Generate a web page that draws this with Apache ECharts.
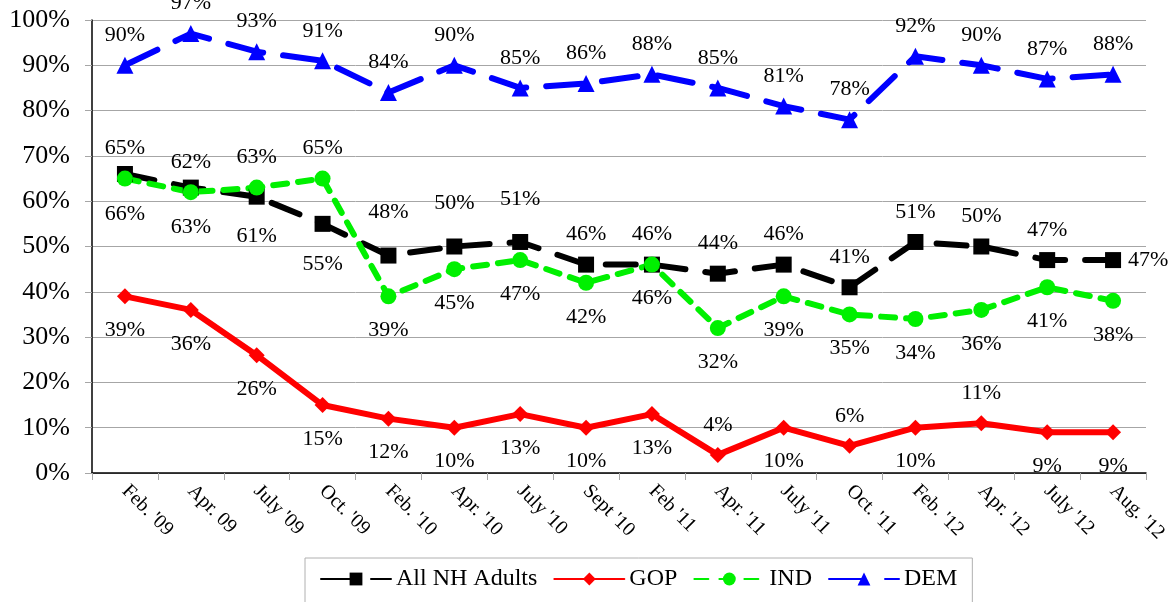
<!DOCTYPE html>
<html>
<head>
<meta charset="utf-8">
<script src="https://cdn.jsdelivr.net/npm/echarts@6/dist/echarts.min.js"></script>
<style>
  html, body { margin: 0; padding: 0; background: #fff; }
  #main { width: 1174px; height: 602px; }
</style>
</head>
<body>
<div id="main"></div>
<script>
var chartDom = document.getElementById('main');
var myChart = echarts.init(chartDom);
var option;

const months = ["Feb. '09", "Apr. 09", "July '09", "Oct. '09", "Feb. '10", "Apr. '10", "July '10", "Sept '10",
  "Feb '11", "Apr. '11", "July '11", "Oct. '11", "Feb. '12", "Apr. '12", "July '12", "Aug. '12"];
const yTicks = [0, 10, 20, 30, 40, 50, 60, 70, 80, 90, 100];

const allAdults = [66, 63, 61, 55, 48, 50, 51, 46, 46, 44, 46, 41, 51, 50, 47, 47];
const gop = [39, 36, 26, 15, 12, 10, 13, 10, 13, 4, 10, 6, 10, 11, 9, 9];
const ind = [65, 62, 63, 65, 39, 45, 47, 42, 46, 32, 39, 35, 34, 36, 41, 38];
const dem = [90, 97, 93, 91, 84, 90, 85, 86, 88, 85, 81, 78, 92, 90, 87, 88];

// where each data label sits: a = above, A = further above, b = below, B = further below, r = right
const allPlace = 'BBBBAAAaaaaaaaar';
const gopPlace = 'bbbbbbbbbabababb';
const indPlace = 'aaaabbbbbbbbbbbb';
const demPlace = 'aaaaaaaaaaaaaaaa';

const serif = '"Liberation Serif", "DejaVu Serif", serif';
const offsets = { a: [0, -30], A: [0, -43], b: [0, 34], B: [0, 40], r: [35, 0] };

function withLabels(values, place) {
  return values.map(function (v, i) {
    return { value: v, label: { offset: offsets[place[i]] } };
  });
}

function lineSeries(name, values, place, color, symbol, dash) {
  return {
    name: name,
    type: 'line',
    data: withLabels(values, place),
    symbol: symbol,
    symbolSize: symbol === 'triangle' ? 17 : 16,
    lineStyle: { color: color, width: 6, type: dash, cap: 'round' },
    itemStyle: { color: color },
    label: {
      show: true,
      position: 'inside',
      formatter: '{c}%',
      color: '#000',
      fontFamily: serif,
      fontSize: 22
    },
    emphasis: { disabled: true },
    animation: false
  };
}

option = {
  backgroundColor: '#fff',
  grid: { left: 92, right: 28, top: 20, bottom: 129 },
  legend: {
    top: 558,
    left: 305,
    padding: [9, 15, 12, 15],
    borderColor: '#b0b0b0',
    borderWidth: 1,
    itemWidth: 70,
    itemHeight: 16,
    itemGap: 16,
    textStyle: { fontFamily: serif, fontSize: 24, color: '#000' }
  },
  xAxis: {
    type: 'category',
    data: months,
    boundaryGap: true,
    axisLine: { lineStyle: { color: '#000', width: 1.5 } },
    axisTick: { show: true, length: 7, lineStyle: { color: '#a6a6a6' } },
    axisLabel: { rotate: -45, margin: 15, fontFamily: serif, fontSize: 20, color: '#000' }
  },
  yAxis: {
    type: 'value',
    min: yTicks[0],
    max: yTicks[yTicks.length - 1],
    interval: 10,
    axisLine: { show: true, lineStyle: { color: '#000', width: 1.5 } },
    axisTick: { show: true, length: 7, lineStyle: { color: '#a6a6a6' } },
    axisLabel: { formatter: '{value}%', margin: 22, fontFamily: serif, fontSize: 26, color: '#000' },
    splitLine: { lineStyle: { color: '#a6a6a6', width: 1 } }
  },
  series: [
    lineSeries('All NH Adults', allAdults, allPlace, '#000000', 'rect', [30, 20]),
    lineSeries('GOP', gop, gopPlace, '#ff0000', 'diamond', 'solid'),
    lineSeries('IND', ind, indPlace, '#00f000', 'circle', [14, 11]),
    lineSeries('DEM', dem, demPlace, '#0000ff', 'triangle', [36, 20])
  ]
};

option && myChart.setOption(option);
</script>
</body>
</html>
